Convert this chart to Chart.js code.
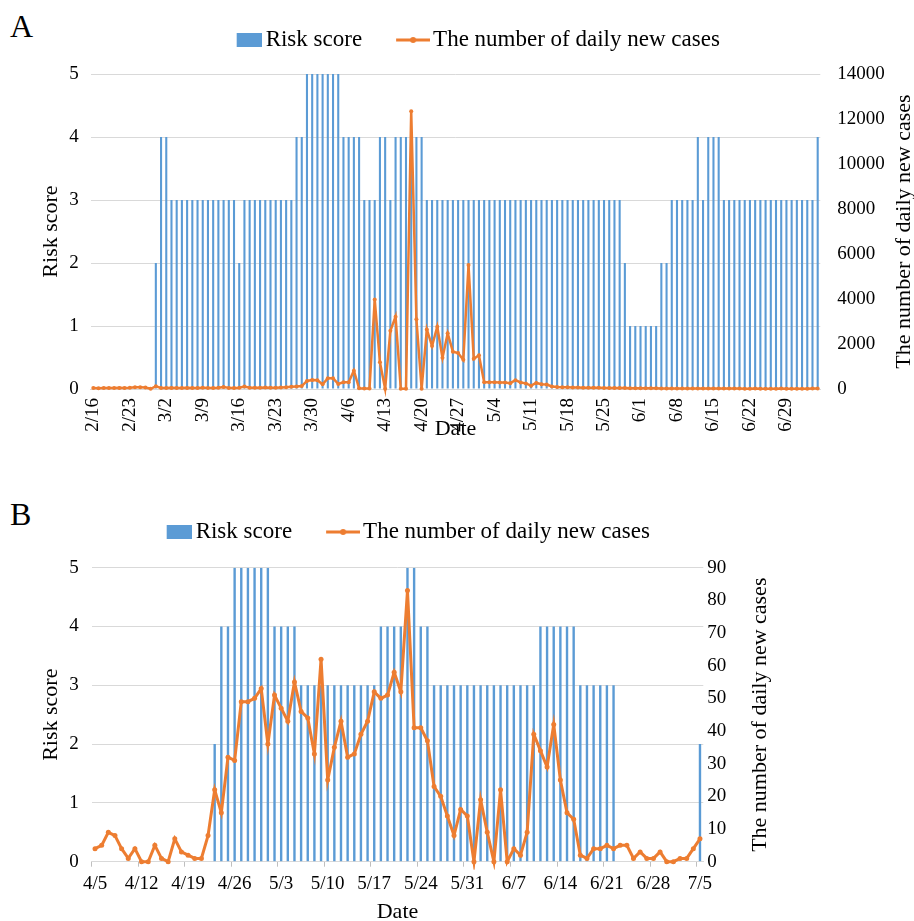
<!DOCTYPE html>
<html>
<head>
<meta charset="utf-8">
<script src="https://cdn.jsdelivr.net/npm/chart.js@4/dist/chart.umd.min.js"></script>
<style>
html,body{margin:0;padding:0;background:#fff;width:914px;height:921px;overflow:hidden;}
.panel{position:absolute;left:0;width:914px;}
#wrapA{top:0;height:460px;}
#wrapB{top:470px;height:451px;}
.tag{position:absolute;font-family:'Liberation Serif','Times New Roman',serif;font-size:32px;line-height:1;color:#000;}
</style>
</head>
<body>
<div class="tag" style="left:10px;top:10px">A</div>
<div class="tag" style="left:10px;top:498px">B</div>
<div id="wrapA" class="panel"><canvas id="cA" width="914" height="460"></canvas></div>
<div id="wrapB" class="panel"><canvas id="cB" width="914" height="451"></canvas></div>
<script>
// ---------- Panel A data (2/16 - 7/5) ----------
const datesA = [
 '2/16','2/17','2/18','2/19','2/20','2/21','2/22','2/23','2/24','2/25','2/26','2/27','2/28',
 '3/1','3/2','3/3','3/4','3/5','3/6','3/7','3/8','3/9','3/10','3/11','3/12','3/13','3/14','3/15','3/16','3/17','3/18','3/19','3/20','3/21','3/22','3/23','3/24','3/25','3/26','3/27','3/28','3/29','3/30','3/31',
 '4/1','4/2','4/3','4/4','4/5','4/6','4/7','4/8','4/9','4/10','4/11','4/12','4/13','4/14','4/15','4/16','4/17','4/18','4/19','4/20','4/21','4/22','4/23','4/24','4/25','4/26','4/27','4/28','4/29','4/30',
 '5/1','5/2','5/3','5/4','5/5','5/6','5/7','5/8','5/9','5/10','5/11','5/12','5/13','5/14','5/15','5/16','5/17','5/18','5/19','5/20','5/21','5/22','5/23','5/24','5/25','5/26','5/27','5/28','5/29','5/30','5/31',
 '6/1','6/2','6/3','6/4','6/5','6/6','6/7','6/8','6/9','6/10','6/11','6/12','6/13','6/14','6/15','6/16','6/17','6/18','6/19','6/20','6/21','6/22','6/23','6/24','6/25','6/26','6/27','6/28','6/29','6/30',
 '7/1','7/2','7/3','7/4','7/5'
];
const tickLabelsA = ['2/16','2/23','3/2','3/9','3/16','3/23','3/30','4/6','4/13','4/20','4/27','5/4','5/11','5/18','5/25','6/1','6/8','6/15','6/22','6/29'];
const riskA = [
 null,null,null,null,null,null,null,null,null,null,null,null,
 2,4,4,
 3,3,3,3,3,3,3,3,3,3,3,3,3,
 2,
 3,3,3,3,3,3,3,3,3,3,
 4,4,
 5,5,5,5,5,5,5,
 4,4,4,4,
 3,3,3,
 4,4,
 3,
 4,4,4,4,4,4,
 3,3,3,3,3,3,3,3,3,3,3,3,3,3,3,3,3,3,3,3,3,3,3,3,3,3,3,3,3,3,3,3,3,3,3,3,3,3,
 2,
 1,1,1,1,1,1,
 2,2,
 3,3,3,3,3,
 4,3,4,4,4,
 3,3,3,3,3,3,3,3,3,3,3,3,3,3,3,3,3,3,
 4
];
const casesA = [
 40,35,40,45,40,50,45,55,80,80,70,
 10,120,
 45,40,50,40,45,50,40,45,55,50,45,60,
 90,50,45,55,110,
 60,55,60,65,55,60,70,
 80,95,110,130,
 360,400,390,210,475,475,225,295,295,815,
 30,20,20,
 3980,1190,10,2590,3215,10,10,12350,3095,10,
 2650,1910,2770,1390,2475,1660,1600,1300,5510,1340,1500,
 300,300,300,290,290,260,390,290,250,150,270,210,200,110,90,80,
 75,70,65,60,60,55,55,50,50,45,
 40,40,35,35,30,30,30,30,25,25,
 25,22,22,20,20,22,20,20,18,18,20,18,18,18,15,15,18,15,15,15,15,18,15,15,15,15,15,18,20
];

// ---------- Panel B data (4/5 - 7/5) ----------
const datesB = [
 '4/5','4/6','4/7','4/8','4/9','4/10','4/11','4/12','4/13','4/14','4/15','4/16','4/17','4/18','4/19','4/20','4/21','4/22','4/23','4/24','4/25','4/26','4/27','4/28','4/29','4/30',
 '5/1','5/2','5/3','5/4','5/5','5/6','5/7','5/8','5/9','5/10','5/11','5/12','5/13','5/14','5/15','5/16','5/17','5/18','5/19','5/20','5/21','5/22','5/23','5/24','5/25','5/26','5/27','5/28','5/29','5/30','5/31',
 '6/1','6/2','6/3','6/4','6/5','6/6','6/7','6/8','6/9','6/10','6/11','6/12','6/13','6/14','6/15','6/16','6/17','6/18','6/19','6/20','6/21','6/22','6/23','6/24','6/25','6/26','6/27','6/28','6/29','6/30',
 '7/1','7/2','7/3','7/4','7/5'
];
const tickLabelsB = ['4/5','4/12','4/19','4/26','5/3','5/10','5/17','5/24','5/31','6/7','6/14','6/21','6/28','7/5'];
const riskB = [
 null,null,null,null,null,null,null,null,null,null,null,null,null,null,null,null,null,null,
 2,
 4,4,
 5,5,5,5,5,5,
 4,4,4,4,
 3,3,3,3,3,3,3,3,3,3,3,3,
 4,4,4,4,
 5,5,
 4,4,
 3,3,3,3,3,3,3,3,3,3,3,3,3,3,3,3,
 4,4,4,4,4,4,
 3,3,3,3,3,3,
 null,null,null,null,null,null,null,null,null,null,null,null,
 2
];
const casesB = [
 4,5,9,8,4,1,4,0,0,5,1,0,7,3,2,1,1,8,
 22,15,32,31,49,49,50,53,36,51,47,43,55,46,44,33,62,25,35,43,32,33,39,
 43,52,50,51,58,52,83,41,41,37,23,20,14,8,16,14,0,19,9,0,
 22,0,4,2,9,39,34,29,42,25,15,13,2,1,4,4,5,4,5,
 5,1,3,1,1,3,0,0,1,1,4,7
];

const riskTicks = [0,1,2,3,4,5];
const casesTicksA = [0,2000,4000,6000,8000,10000,12000,14000];
const casesTicksB = [0,10,20,30,40,50,60,70,80,90];

// ---------- styling ----------
const FONT = "'Liberation Serif', 'Times New Roman', serif";
const BLUE = '#5b9bd5';
const ORANGE = '#ed7d31';
const GRID = '#d9d9d9';
Chart.defaults.font.family = FONT;
Chart.defaults.color = '#000';

function makeBarImg(){
  const c = document.createElement('canvas'); c.width = 35; c.height = 14;
  const g = c.getContext('2d'); g.fillStyle = BLUE; g.fillRect(10,0,25,14); return c;
}
function makeLineImg(){
  const c = document.createElement('canvas'); c.width = 37; c.height = 8;
  const g = c.getContext('2d');
  g.strokeStyle = ORANGE; g.lineWidth = 3; g.beginPath(); g.moveTo(3,4); g.lineTo(37,4); g.stroke();
  g.fillStyle = ORANGE; g.beginPath(); g.arc(20,4,3,0,Math.PI*2); g.fill(); return c;
}
const barImg = makeBarImg();
const lineImg = makeLineImg();

const legendShift = {
  id: 'legendShift',
  afterLayout(chart, args, opts) {
    const l = chart.legend; if (!l) return;
    l.left += opts.dx; l.right += opts.dx; l.top += opts.dy; l.bottom += opts.dy;
  }
};
const rightTitle = {
  id: 'rightTitle',
  afterDraw(chart, args, opts) {
    const {ctx, chartArea} = chart;
    ctx.save();
    ctx.font = opts.font;
    ctx.fillStyle = '#000';
    ctx.textAlign = 'center';
    ctx.textBaseline = 'middle';
    ctx.translate(opts.x, (chartArea.top + chartArea.bottom) / 2);
    ctx.rotate(-Math.PI / 2);
    ctx.fillText(opts.text, 0, 0);
    ctx.restore();
  }
};

function build(id, p) {
  return new Chart(document.getElementById(id), {
    type: 'bar',
    data: {
      labels: p.labels,
      datasets: [
        { type: 'bar', label: 'Risk score', data: p.risk, yAxisID: 'y', backgroundColor: BLUE,
          borderWidth: 0, barPercentage: p.barPct, categoryPercentage: 1, order: 2 },
        { type: 'line', label: 'The number of daily new cases', data: p.cases, yAxisID: 'y2',
          borderColor: ORANGE, backgroundColor: ORANGE, borderWidth: p.lineW, tension: 0,
          pointRadius: p.ptR, pointBackgroundColor: ORANGE, pointBorderWidth: 0, clip: 8, order: 1 }
      ]
    },
    options: {
      responsive: false, animation: false, devicePixelRatio: 1,
      layout: { padding: { top: p.padTop, left: 0, right: 0, bottom: 0 } },
      plugins: {
        tooltip: { enabled: false },
        legend: {
          position: 'top',
          labels: {
            font: { size: 23 }, padding: 39.5, usePointStyle: true, pointStyleWidth: 20,
            generateLabels: (chart) => {
              const items = Chart.defaults.plugins.legend.labels.generateLabels(chart);
              items.forEach(it => { it.pointStyle = it.datasetIndex === 0 ? barImg : lineImg; it.lineWidth = 0; });
              return items.sort((a, b) => a.datasetIndex - b.datasetIndex);
            }
          }
        },
        legendShift: { dx: p.legDx, dy: p.legDy },
        rightTitle: { text: 'The number of daily new cases', x: p.rtX, font: '22px ' + FONT }
      },
      scales: {
        x: {
          type: 'category', offset: true,
          afterFit: (s) => { s.height = p.xH; },
          grid: p.xGrid,
          border: { display: true, color: GRID, width: 1 },
          ticks: {
            autoSkip: false, minRotation: p.rot, maxRotation: p.rot, padding: p.xPad,
            font: { size: 19 },
            callback: function(v) { const l = this.getLabelForValue(v); return p.tickLabels.includes(l) ? l : ''; }
          },
          title: { display: true, text: 'Date', font: { size: 22, lineHeight: 1 }, padding: { top: 0, bottom: p.dateB } }
        },
        y: {
          position: 'left', min: 0, max: 5,
          afterFit: (s) => { s.width = p.leftW; },
          afterBuildTicks: (s) => { s.ticks = riskTicks.map(v => ({ value: v })); },
          grid: { color: GRID, drawTicks: false, lineWidth: 1 },
          border: { display: false },
          ticks: { padding: p.lPad, font: { size: 19 } },
          title: { display: true, text: 'Risk score', font: { size: 22 }, padding: { top: 38, bottom: 0 } }
        },
        y2: {
          position: 'right', min: 0, max: p.rMax,
          afterFit: (s) => { s.width = p.rightW; },
          afterBuildTicks: (s) => { s.ticks = p.rTicks.map(v => ({ value: v })); },
          grid: { display: false, drawOnChartArea: false, drawTicks: false },
          border: { display: false },
          ticks: { padding: p.rPad, font: { size: 19 }, callback: (v) => String(v) }
        }
      }
    },
    plugins: [legendShift, rightTitle]
  });
}

build('cA', {
  labels: datesA, risk: riskA, cases: casesA, tickLabels: tickLabelsA,
  barPct: 0.4, lineW: 2.5, ptR: 2,
  padTop: 1.5, legDx: 20, legDy: -12.5,
  xH: 71, rot: 90, xPad: 9, dateB: 20,
  xGrid: { display: false, drawTicks: false },
  leftW: 90.7, lPad: 12,
  rightW: 93.7, rPad: 17, rMax: 14000, rTicks: casesTicksA, rtX: 904
});

build('cB', {
  labels: datesB, risk: riskB, cases: casesB, tickLabels: tickLabelsB,
  barPct: 0.36, lineW: 3, ptR: 2.5,
  padTop: 25.2, legDx: -50, legDy: -14.2,
  xH: 59.3, rot: 0, xPad: 6, dateB: -2,
  xGrid: { display: true, drawOnChartArea: false, drawTicks: true, tickLength: 5, offset: true,
           color: (c) => (c.index !== undefined && c.index % 7 === 0) ? '#bfbfbf' : 'rgba(0,0,0,0)' },
  leftW: 91.7, lPad: 13,
  rightW: 210.7, rPad: 4, rMax: 90, rTicks: casesTicksB, rtX: 760
});
</script>
</body>
</html>
